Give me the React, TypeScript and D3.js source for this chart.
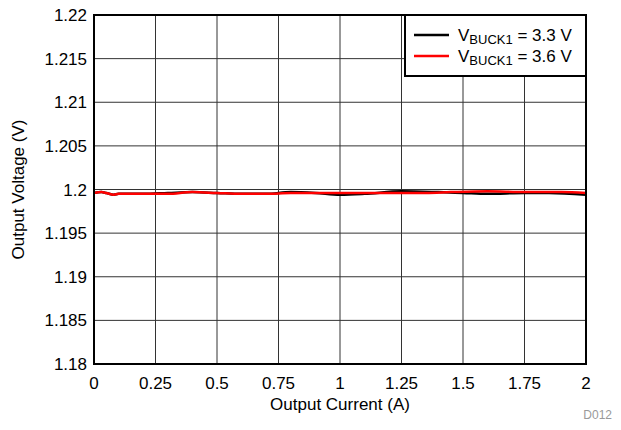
import React from "react";
import * as d3 from "d3";

const xTicks = [0, 0.25, 0.5, 0.75, 1, 1.25, 1.5, 1.75, 2];
const xTickLabels = ["0", "0.25", "0.5", "0.75", "1", "1.25", "1.5", "1.75", "2"];
const yTicks = [1.18, 1.185, 1.19, 1.195, 1.2, 1.205, 1.21, 1.215, 1.22];
const yTickLabels = ["1.18", "1.185", "1.19", "1.195", "1.2", "1.205", "1.21", "1.215", "1.22"];

const currentBlack = [0, 0.03, 0.05, 0.08, 0.1, 0.2, 0.3, 0.4, 0.5, 0.6, 0.7, 0.8, 0.9, 1.0, 1.1, 1.25, 1.4, 1.5, 1.6, 1.75, 1.85, 2.0];
const voltageBlack = [1.1996, 1.1997, 1.1996, 1.1994, 1.1995, 1.1995, 1.1996, 1.1997, 1.1996, 1.1995, 1.1995, 1.1997, 1.1996, 1.1994, 1.1995, 1.1998, 1.1997, 1.1996, 1.1995, 1.1996, 1.1996, 1.1994];
const currentRed = [0, 0.03, 0.05, 0.08, 0.1, 0.2, 0.3, 0.4, 0.5, 0.6, 0.7, 0.8, 0.9, 1.0, 1.1, 1.25, 1.35, 1.45, 1.6, 1.75, 1.9, 2.0];
const voltageRed = [1.1996, 1.1997, 1.1996, 1.1994, 1.1995, 1.1995, 1.1995, 1.1997, 1.1996, 1.1995, 1.1995, 1.1996, 1.1996, 1.1996, 1.1996, 1.1996, 1.1996, 1.1997, 1.1998, 1.1997, 1.1997, 1.1996];

const legendLabels = [
  { sub: "BUCK1", rest: " = 3.3 V", color: "#000000" },
  { sub: "BUCK1", rest: " = 3.6 V", color: "#ff0000" },
];

const W = 621, H = 430;
const L = 94, R = 586, T = 15, B = 364;
const FONT = "'Liberation Sans', Arial, Helvetica, sans-serif";

export default function App() {
  const x = d3.scaleLinear().domain([0, 2]).range([L, R]);
  const y = d3.scaleLinear().domain([1.18, 1.22]).range([B, T]);
  const line = d3.line<[number, number]>().x(d => x(d[0])).y(d => y(d[1])).curve(d3.curveMonotoneX);
  const black = line(currentBlack.map((c, i) => [c, voltageBlack[i]] as [number, number])) || "";
  const red = line(currentRed.map((c, i) => [c, voltageRed[i]] as [number, number])) || "";
  const fs = 17;
  return (
    <svg width={W} height={H} style={{ position: "absolute", left: 0, top: 0, background: "#fff" }} fontFamily={FONT}>
      <rect x={0} y={0} width={W} height={H} fill="#fff" />
      {xTicks.slice(1, -1).map(t => (
        <line key={"gx" + t} x1={x(t)} x2={x(t)} y1={T} y2={B} stroke="#333" strokeWidth={1} />
      ))}
      {yTicks.slice(1, -1).map(t => (
        <line key={"gy" + t} x1={L} x2={R} y1={y(t)} y2={y(t)} stroke="#333" strokeWidth={1} />
      ))}
      <path d={black} fill="none" stroke="#000" strokeWidth={2.5} />
      <path d={red} fill="none" stroke="#ff0000" strokeWidth={2.5} />
      <rect x={L} y={T} width={R - L} height={B - T} fill="none" stroke="#000" strokeWidth={2} />
      {xTicks.map((t, i) => (
        <text key={"xl" + t} x={x(t)} y={B + 25} textAnchor="middle" fontSize={fs} fill="#000">{xTickLabels[i]}</text>
      ))}
      {yTicks.map((t, i) => (
        <text key={"yl" + t} x={L - 7} y={y(t) + 6} textAnchor="end" fontSize={fs} fill="#000">{yTickLabels[i]}</text>
      ))}
      <text x={(L + R) / 2} y={B + 46} textAnchor="middle" fontSize={fs} fill="#000">Output Current (A)</text>
      <text transform={`translate(24,${(T + B) / 2}) rotate(-90)`} textAnchor="middle" fontSize={fs} fill="#000">Output Voltage (V)</text>
      <text x={612} y={419} textAnchor="end" fontSize={12} fill="#999">D012</text>
      <rect x={405} y={T} width={R - 405} height={76 - T} fill="#fff" stroke="#000" strokeWidth={2} />
      {legendLabels.map((lg, i) => {
        const ly = 35 + i * 21;
        return (
          <g key={"lg" + i}>
            <line x1={414} x2={449} y1={ly} y2={ly} stroke={lg.color} strokeWidth={2.5} />
            <text x={458} y={ly + 6} fontSize={fs} fill="#000">
              V<tspan fontSize={13} dy={3}>{lg.sub}</tspan><tspan dy={-3}>{lg.rest}</tspan>
            </text>
          </g>
        );
      })}
    </svg>
  );
}
